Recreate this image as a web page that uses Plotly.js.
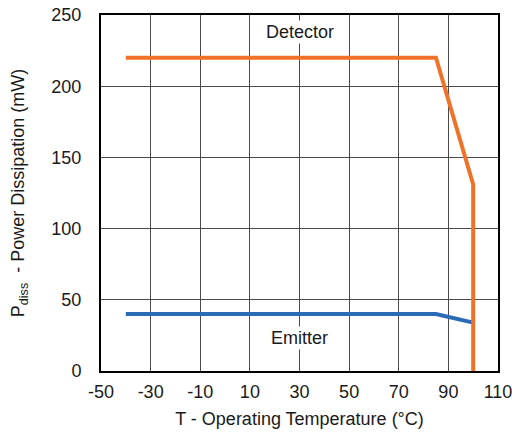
<!DOCTYPE html>
<html>
<head>
<meta charset="utf-8">
<script src="https://cdn.plot.ly/plotly-3.0.1.min.js"></script>
<style>html,body{margin:0;padding:0;background:#fff;}#chart{width:512px;height:433px;}</style>
</head>
<body>
<div id="chart"></div>
<script>
const detectorT = [-40, 85, 100, 100];
const detectorP = [220, 220, 131, 0];
const emitterT = [-40, 85, 100];
const emitterP = [40, 40, 34];
const xTicks = [-50, -30, -10, 10, 30, 50, 70, 90, 110];
const yTicks = [0, 50, 100, 150, 200, 250];
const seriesLabels = ['Detector', 'Emitter'];

const font = {family: 'Liberation Sans, Arial, sans-serif', size: 18, color: '#1a1a1a'};

const traces = [
  {x: emitterT, y: emitterP, mode: 'lines', name: seriesLabels[1],
   line: {color: '#2A6BB5', width: 4}, showlegend: false},
  {x: detectorT, y: detectorP, mode: 'lines', name: seriesLabels[0],
   line: {color: '#F07228', width: 4}, showlegend: false}
];

const layout = {
  width: 512, height: 433,
  margin: {l: 101, r: 14, t: 15, b: 62},
  paper_bgcolor: '#fff', plot_bgcolor: '#fff',
  font: font,
  xaxis: {
    range: [-50, 110], tickvals: xTicks, ticktext: xTicks.map(String),
    showgrid: true, gridcolor: '#4a4a4a', gridwidth: 1,
    showline: true, linecolor: '#000', linewidth: 2, mirror: true,
    zeroline: false, ticks: '', ticklabelstandoff: 3,
    ticklabeloverflow: 'allow', automargin: false,
    tickfont: font,
    title: {text: 'T - Operating Temperature (°C)', font: font, standoff: 12}
  },
  yaxis: {
    range: [0, 250], tickvals: yTicks, ticktext: yTicks.map(String),
    showgrid: true, gridcolor: '#4a4a4a', gridwidth: 1,
    showline: true, linecolor: '#000', linewidth: 2, mirror: true,
    zeroline: false, ticks: '', ticklabelstandoff: 14,
    ticklabeloverflow: 'allow', automargin: false,
    tickfont: font,
    title: {text: 'P<sub>diss</sub>  - Power Dissipation (mW)', font: font, standoff: 22}
  },
  annotations: [
    {x: 30, y: 238, xref: 'x', yref: 'y', text: seriesLabels[0], showarrow: false,
     font: font, bgcolor: '#fff', borderpad: 1},
    {x: 30, y: 23, xref: 'x', yref: 'y', text: seriesLabels[1], showarrow: false,
     font: font, bgcolor: '#fff', borderpad: 1}
  ]
};

Plotly.newPlot('chart', traces, layout, {displayModeBar: false, staticPlot: true});
</script>
</body>
</html>
